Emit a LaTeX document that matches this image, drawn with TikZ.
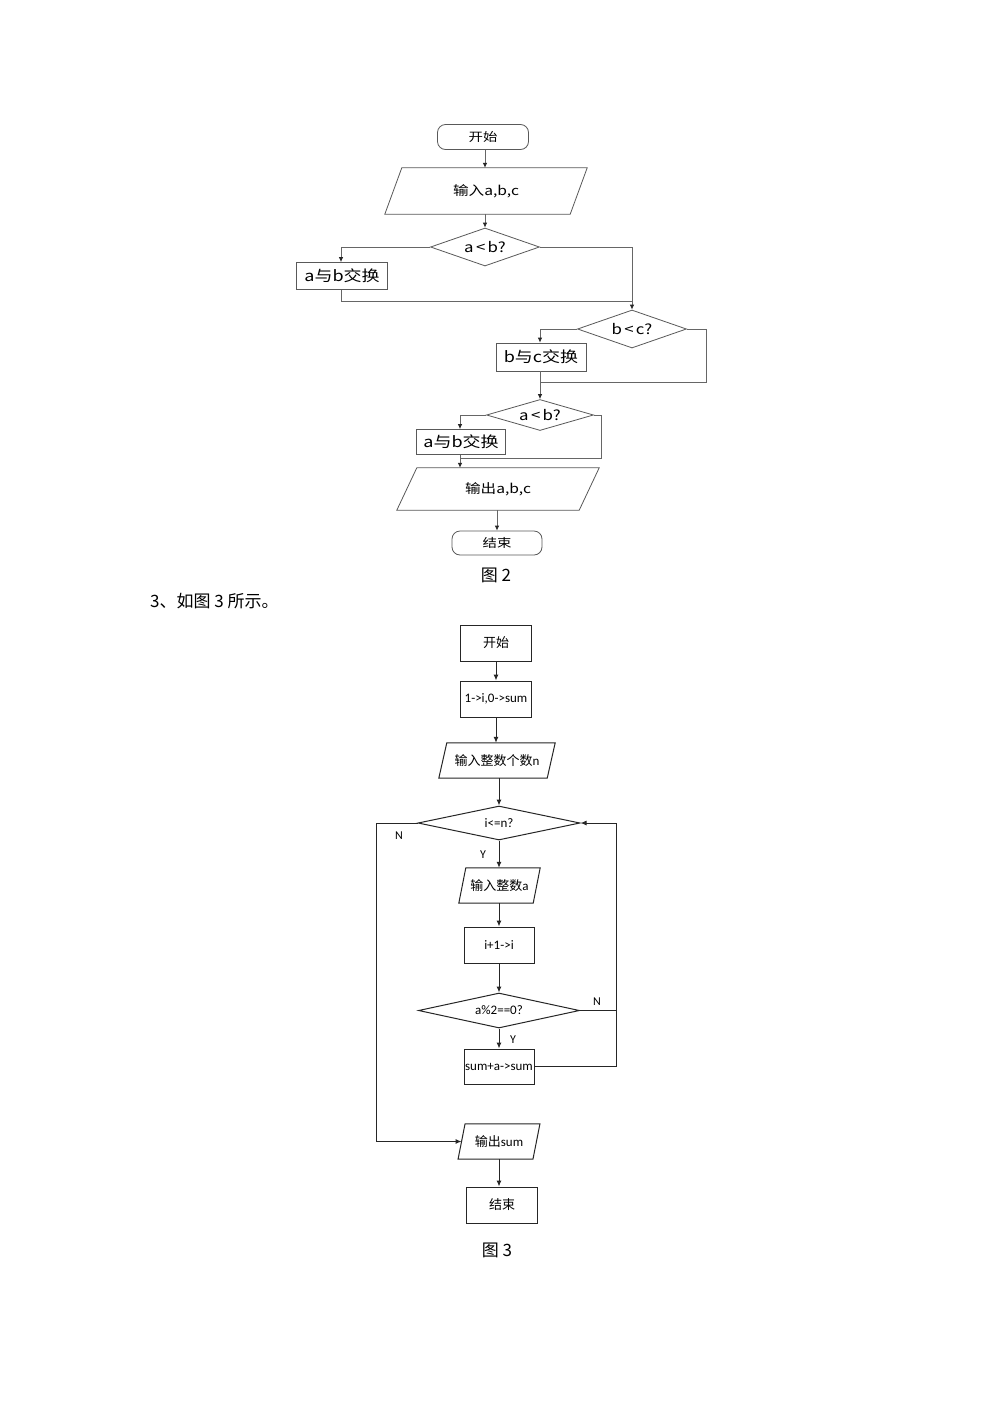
\documentclass[tikz,border=0pt]{standalone}
\usepackage{fontspec}
\setmainfont{Carlito}
\newfontfamily\cjk{Noto Sans CJK SC}
\newfontfamily\cjkw{Noto Sans CJK SC}[FakeStretch=1.2]
\usetikzlibrary{shapes.geometric,arrows.meta}
\newcommand\paral[3]{\draw[#3] ([xshift=#2]#1.north west) -- ([xshift=#2]#1.north east) -- ([xshift=-#2]#1.south east) -- ([xshift=-#2]#1.south west) -- cycle;}
\begin{document}
\begin{tikzpicture}[x=1pt,y=-1pt,
  ln2/.style={draw=black!60, line width=0.8pt},
  ar2/.style={ln2, -{Latex[length=5pt,width=4.5pt,color=black!85]}},
  ln3/.style={draw=black!85, line width=1pt},
  ar3/.style={ln3, -{Latex[length=6pt,width=5pt]}},
  box2/.style={draw=black!65, line width=0.8pt, inner sep=0pt},
  term2/.style={box2, rounded corners=8pt, font=\cjkw\fontsize{12}{14}\selectfont},
  proc2/.style={box2, font=\cjkw\fontsize{15}{17}\selectfont},
  dia2/.style={box2, diamond, aspect=2.8, font=\cjkw\fontsize{14}{16}\selectfont},
  io2/.style={inner sep=0pt, font=\cjkw\fontsize{13}{15}\selectfont},
  box3/.style={draw=black!85, line width=1pt, inner sep=0pt, minimum width=71pt, minimum height=36pt, font=\fontsize{13}{15}\selectfont},
  dia3/.style={box3, diamond, aspect=4.7},
  io3/.style={inner sep=0pt, minimum height=35pt, font=\fontsize{13}{15}\selectfont},
  lab/.style={font=\fontsize{12}{14}\selectfont, inner sep=0pt},
  captxt/.style={font=\cjk\fontsize{17}{20}\selectfont, inner sep=0pt}
]
\useasboundingbox[fill=white] (0,0) rectangle (992,1403);

% ---------- Figure 2 ----------
\node[term2, minimum width=91pt, minimum height=25pt] (st2) at (483,137) {开始};
\node[io2, minimum width=185pt, minimum height=46pt] (in2) at (486,191) {输入a,b,c};
\paral{in2}{8.5pt}{box2}
\node[dia2, minimum width=109pt, minimum height=38pt] (d1) at (485,247) {a\,<\,b?};
\node[proc2, minimum width=91pt, minimum height=27pt] (sw1) at (342,276) {a与b交换};
\coordinate (j1) at (632,301);
\node[dia2, minimum width=109pt, minimum height=38pt] (d2) at (632,329) {b\,<\,c?};
\node[proc2, minimum width=90pt, minimum height=28pt] (sw2) at (541,357) {b与c交换};
\coordinate (j2) at (540,382);
\coordinate (r2) at (706,382);
\node[dia2, minimum width=107pt, minimum height=31pt] (d3) at (540,415) {a\,<\,b?};
\node[proc2, minimum width=89pt, minimum height=25pt] (sw3) at (461,442) {a与b交换};
\coordinate (j3) at (460,458);
\coordinate (r3) at (601,458);
\node[io2, minimum width=182pt, minimum height=42pt] (out2) at (498,489) {输出a,b,c};
\paral{out2}{10pt}{box2}
\node[term2, minimum width=90pt, minimum height=24pt] (en2) at (497,543) {结束};
\node[captxt] (c2) at (496,575) {图 2};

\draw[ar2] (d1.north |- st2.south) -- (d1.north |- in2.north);
\draw[ar2] (in2.south -| d1.north) -- (d1.north);
\draw[ar2] (d1.west) -| ([xshift=-1pt]sw1.north);
\draw[ln2] ([xshift=-1pt]sw1.south) |- (j1);
\draw[ln2] (d1.east) -| (j1);
\draw[ar2] (j1) -- (d2.north);
\draw[ar2] (d2.west) -| (j2 |- sw2.north);
\draw[ln2] (d2.east) -| (r2) -- (j2);
\draw[ln2] (j2 |- sw2.south) -- (j2);
\draw[ar2] (j2) -- (d3.north);
\draw[ar2] (d3.west) -| (j3 |- sw3.north);
\draw[ln2] (d3.east) -| (r3) -- (j3);
\draw[ln2] (j3 |- sw3.south) -- (j3);
\draw[ar2] (j3) -- (j3 |- out2.north);
\draw[ar2] (out2.south -| en2.north) -- (en2.north);

\node[captxt, anchor=west] (t3) at (150,601) {3、如图 3 所示。};

% ---------- Figure 3 ----------
\node[box3] (s3) at (496,643) {\cjk 开始};
\node[box3] (init) at (496,699) {1->i,0->sum};
\node[io3, minimum width=108pt] (inn) at (497,760.5) {{\cjk 输入整数个数}n};
\paral{inn}{4pt}{ln3}
\node[dia3, minimum width=162pt, minimum height=34pt] (d4) at (499,823) {i<=n?};
\node[io3, minimum width=74pt] (ina) at (499.5,885.5) {{\cjk 输入整数}a};
\paral{ina}{3.5pt}{ln3}
\node[box3, minimum width=70pt] (inc) at (499,945) {i+1->i};
\node[dia3, minimum width=161pt, minimum height=35pt] (d5) at (499,1010.5) {a\%2==0?};
\node[box3, minimum width=70pt, minimum height=35pt] (acc) at (499,1066.5) {sum+a->sum};
\node[io3, minimum width=74.5pt] (out3) at (499,1141.5) {{\cjk 输出}sum};
\paral{out3}{3.5pt}{ln3}
\node[box3] (en3) at (502,1205) {\cjk 结束};
\node[captxt] (c3) at (497,1250) {图 3};

\node[lab] (n1) at (399,836) {N};
\node[lab] (y1) at (483,855) {Y};
\node[lab] (n2) at (597,1002) {N};
\node[lab] (y2) at (513,1040) {Y};

\coordinate (L) at (376,1141.5);
\coordinate (R) at (616,823);
\draw[ar3] (s3) -- (init);
\draw[ar3] (init.south) -- (init.south |- inn.north);
\draw[ar3] (d4.north |- inn.south) -- (d4.north);
\draw[ar3] (d4.south) -- (d4.south |- ina.north);
\draw[ar3] (ina.south -| inc.north) -- (inc.north);
\draw[ar3] (inc) -- (d5);
\draw[ar3] (d5) -- (acc);
\draw[ar3] (d4.west) -| (L) -- (out3.west);
\draw[ar3] (acc.east) -| (R) -- (d4.east);
\draw[ln3] (d5.east) -- (d5.east -| R);
\draw[ar3] (out3.south) -- (out3.south |- en3.north);
\end{tikzpicture}
\end{document}
